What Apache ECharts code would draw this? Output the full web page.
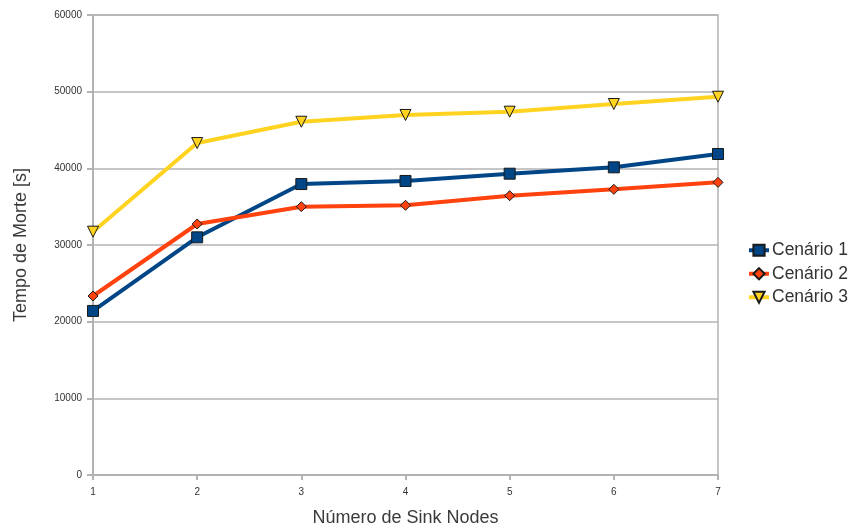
<!DOCTYPE html>
<html><head><meta charset="utf-8">
<script src="https://cdn.jsdelivr.net/npm/echarts@6/dist/echarts.min.js"></script>
<style>html,body{margin:0;padding:0;background:#fff}#c{width:850px;height:530px}</style>
</head><body><div id="c"></div>
<script>
const xValues = [1, 2, 3, 4, 5, 6, 7];
const cenario1 = [21400, 31000, 37950, 38350, 39300, 40130, 41870];
const cenario2 = [23350, 32740, 35000, 35180, 36430, 37260, 38170];
const cenario3 = [31740, 43300, 46080, 46960, 47390, 48390, 49340];
const seriesNames = ['Cenário 1', 'Cenário 2', 'Cenário 3'];
const yTicks = [0, 10000, 20000, 30000, 40000, 50000, 60000];

const font = 'Liberation Sans, Arial, sans-serif';
function pairs(arr){ return arr.map((v,i)=>[xValues[i], v]); }
const chart = echarts.init(document.getElementById('c'), null, {renderer:'canvas'});
chart.setOption({
  animation: false,
  backgroundColor: '#fff',
  grid: {left: 93, right: 132, top: 15, bottom: 55, containLabel: false, outerBoundsMode: 'none',
         show: true, borderColor: '#b3b3b3', borderWidth: 1.5},
  xAxis: {
    type: 'value', min: 1, max: 7, interval: 1,
    name: 'Número de Sink Nodes', nameLocation: 'middle', nameGap: 34,
    nameTextStyle: {fontFamily: font, fontSize: 18, color: '#3a3a3a'},
    axisLine: {lineStyle: {color: '#b3b3b3', width: 2}},
    axisTick: {show: true, length: 5, lineStyle: {color: '#b3b3b3', width: 2}},
    axisLabel: {fontFamily: font, fontSize: 10, color: '#333', margin: 12},
    splitLine: {show: false}
  },
  yAxis: {
    type: 'value', min: yTicks[0], max: yTicks[yTicks.length-1], interval: 10000,
    name: 'Tempo de Morte [s]', nameLocation: 'middle', nameGap: 63,
    nameTextStyle: {fontFamily: font, fontSize: 18, color: '#3a3a3a'},
    axisLine: {show: true, lineStyle: {color: '#b3b3b3', width: 2}},
    axisTick: {show: true, length: 6, lineStyle: {color: '#b3b3b3', width: 2}},
    axisLabel: {fontFamily: font, fontSize: 10, color: '#333', margin: 11, formatter: v => String(v)},
    splitLine: {show: true, lineStyle: {color: '#b3b3b3', width: 1.5}}
  },
  legend: {
    orient: 'vertical', left: 747, top: 241, padding: 0, itemGap: 5, itemWidth: 20, itemHeight: 14,
    textStyle: {fontFamily: font, fontSize: 17.5, color: '#333', lineHeight: 18.5, padding: [0, 0, 0, -2]},
    lineStyle: {width: 4},
    data: seriesNames
  },
  series: [
    {name: seriesNames[0], type: 'line', data: pairs(cenario1), symbol: 'rect', symbolSize: 11,
     lineStyle: {color: '#004586', width: 4}, itemStyle: {color: '#004586', borderColor: '#1a1a1a', borderWidth: 1}},
    {name: seriesNames[1], type: 'line', data: pairs(cenario2), symbol: 'diamond', symbolSize: 10,
     lineStyle: {color: '#ff420e', width: 4}, itemStyle: {color: '#ff420e', borderColor: '#1a1a1a', borderWidth: 1}},
    {name: seriesNames[2], type: 'line', data: pairs(cenario3), symbol: 'triangle', symbolRotate: 180, symbolSize: 11,
     lineStyle: {color: '#ffd320', width: 4}, itemStyle: {color: '#ffd320', borderColor: '#1a1a1a', borderWidth: 1}}
  ]
});
</script></body></html>
